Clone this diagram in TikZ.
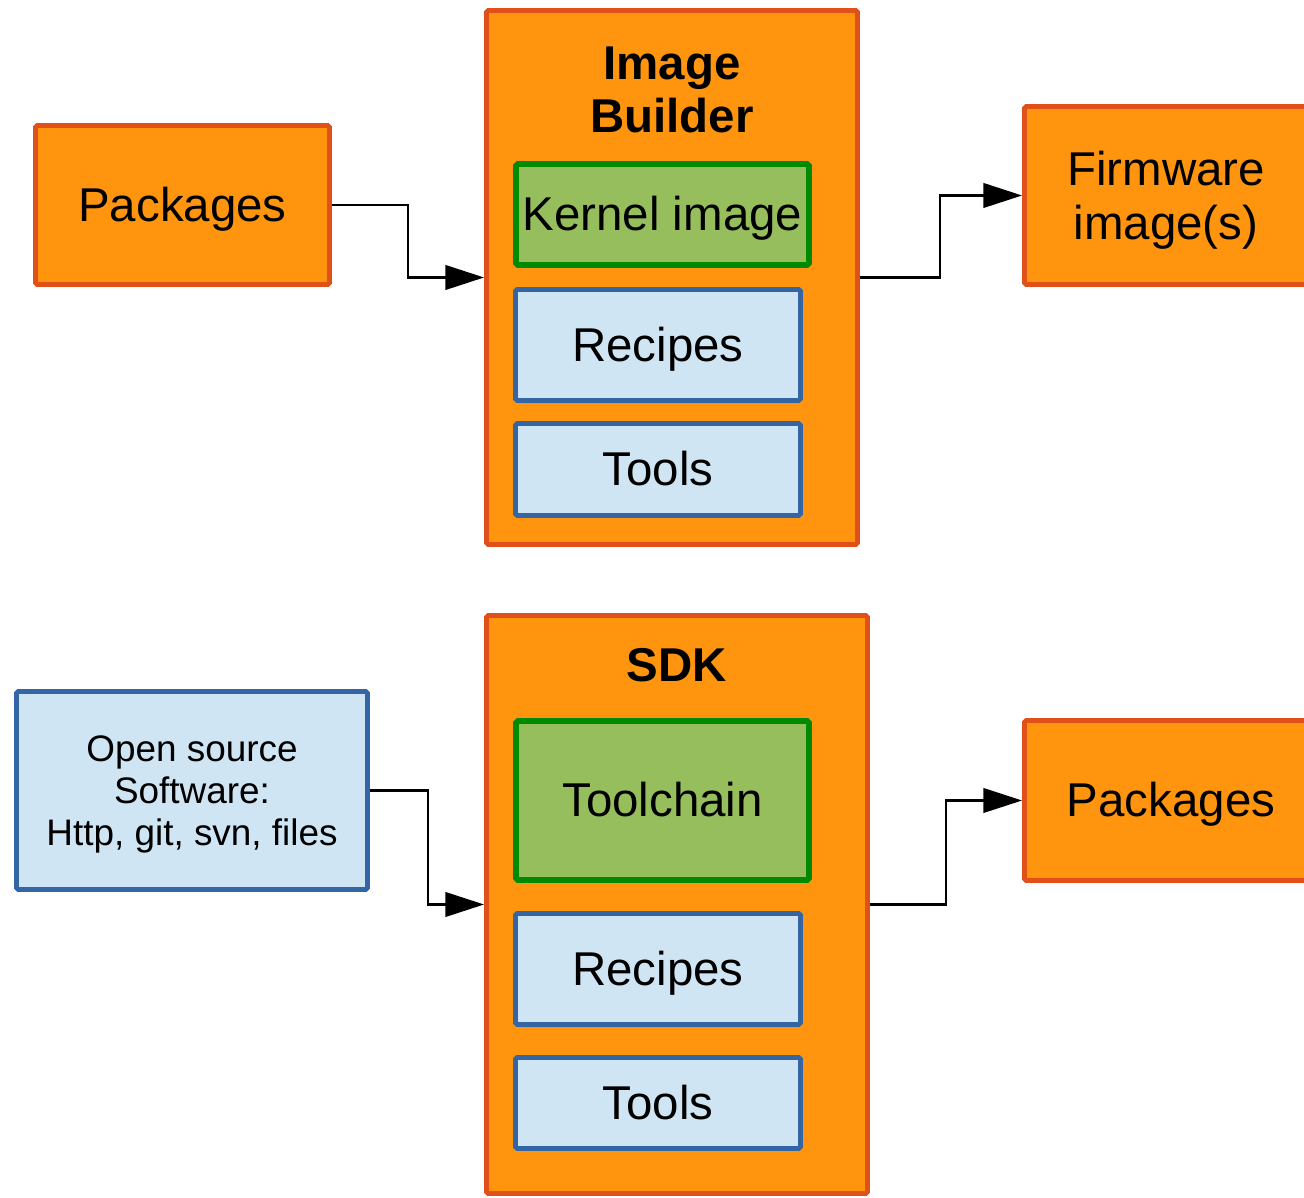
\documentclass[tikz,border=0pt]{standalone}
\usepackage{fontspec}
\setmainfont{Liberation Sans}
\usepackage{tikz}
\usetikzlibrary{arrows.meta}
\definecolor{boxOrange}{HTML}{FF950E}
\definecolor{rimOrange}{HTML}{E2501A}
\definecolor{boxGreen}{HTML}{97BE5D}
\definecolor{rimGreen}{HTML}{008A00}
\definecolor{boxBlue}{HTML}{CFE5F3}
\definecolor{rimBlue}{HTML}{3465A4}
\tikzset{
	orangebox/.style={draw=rimOrange, fill=boxOrange, line width=2.8pt, rounded corners=1pt, align=center, inner sep=0pt},
	greenbox/.style={draw=rimGreen, fill=boxGreen, line width=3.2pt, rounded corners=1pt, align=center, inner sep=0pt},
	bluebox/.style={draw=rimBlue, fill=boxBlue, line width=2.8pt, rounded corners=1pt, align=center, inner sep=0pt},
	oneline/.style={text height=24.4pt, text depth=5.7pt},
	flow/.style={line width=1.2pt, arrows={-Triangle[length=22pt, width=14pt]}},
}

\begin{document}
\begin{tikzpicture}[font=\fontsize{27}{30.5}\selectfont]
	\useasboundingbox (0,0) rectangle (26.08,23.96);
	\clip (0,0) rectangle (26.08,23.96);

	% image builder
	\node[orangebox, minimum width=7.42cm, minimum height=10.68cm] (ib) at (13.44,18.41) {};
	\node[font=\fontsize{27}{30.2}\selectfont\bfseries, align=center] (ibtitle) at (13.44,22.16) {Image\\Builder};
	\node[greenbox, oneline, minimum width=5.86cm, minimum height=2.02cm] (kernel) at (13.25,19.67) {Kernel image};
	\node[bluebox, oneline, minimum width=5.70cm, minimum height=2.22cm] (recipesA) at (13.16,17.06) {Recipes};
	\node[bluebox, oneline, minimum width=5.70cm, minimum height=1.84cm] (toolsA) at (13.16,14.57) {Tools};

	\node[orangebox, oneline, minimum width=5.88cm, minimum height=3.18cm] (pkgA) at (3.65,19.86) {Packages};
	\node[orangebox, text depth=0pt, minimum width=5.66cm, minimum height=3.56cm] (fw) at (23.32,20.05) {Firmware\\image(s)};

	\draw[flow] (pkgA.east) -- ++(1.52,0) |- (ib.west);
	\draw[flow] (ib.east) -- ++(1.60,0) |- (fw.west);

	% sdk
	\node[orangebox, minimum width=7.62cm, minimum height=11.56cm] (sdk) at (13.54,5.87) {};
	\node[font=\fontsize{27}{30.2}\selectfont\bfseries] (sdktitle) at (13.54,10.66) {SDK};
	\node[greenbox, oneline, minimum width=5.86cm, minimum height=3.18cm] (toolchain) at (13.25,7.95) {Toolchain};
	\node[bluebox, oneline, minimum width=5.70cm, minimum height=2.22cm] (recipesB) at (13.16,4.58) {Recipes};
	\node[bluebox, oneline, minimum width=5.70cm, minimum height=1.82cm] (toolsB) at (13.16,1.90) {Tools};

	\node[bluebox, text depth=0pt, minimum width=7.02cm, minimum height=3.96cm, font=\fontsize{21}{23.9}\selectfont] (oss) at (3.84,8.15) {Open source\\Software:\\Http, git, svn, files};
	\node[orangebox, oneline, minimum width=5.86cm, minimum height=3.20cm] (pkgB) at (23.42,7.95) {Packages};

	\draw[flow] (oss.east) -- ++(1.16,0) |- (sdk.west);
	\draw[flow] (sdk.east) -- ++(1.52,0) |- (pkgB.west);
\end{tikzpicture}
\end{document}
